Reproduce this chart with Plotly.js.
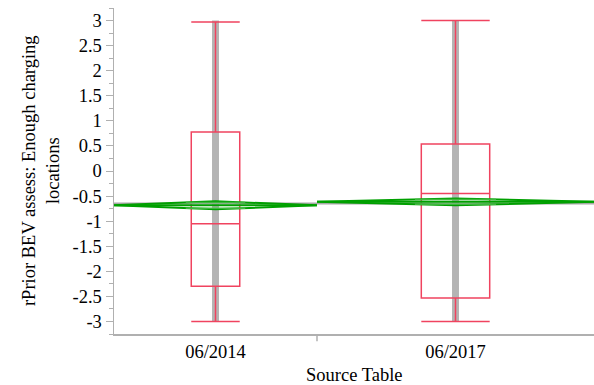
<!DOCTYPE html>
<html>
<head>
<meta charset="utf-8">
<script src="https://cdn.plot.ly/plotly-3.0.1.min.js"></script>
<style>html,body{margin:0;padding:0;background:#fff;}#chart{width:594px;height:385px;}</style>
</head>
<body>
<div id="chart"></div>
<script>
// ---- data ----
const categories = ['06/2014', '06/2017'];
const q1 = [-2.3, -2.53];
const median = [-1.05, -0.45];
const q3 = [0.78, 0.54];
const lowerWhisker = [-3, -3];
const upperWhisker = [2.97, 3];
const pointMin = [-3, -3];
const pointMax = [3, 3];
const means = [-0.685, -0.615];
const ciLower = [-0.765, -0.685];
const ciUpper = [-0.603, -0.547];
const grandMean = -0.648;
const yTickVals = [-3, -2.5, -2, -1.5, -1, -0.5, 0, 0.5, 1, 1.5, 2, 2.5, 3];
const yTickLabels = ['-3', '-2.5', '-2', '-1.5', '-1', '-0.5', '0', '0.5', '1', '1.5', '2', '2.5', '3'];

// ---- layout constants (group widths as drawn) ----
const edges = [0, 0.4229, 1];
const centers = [ (edges[0]+edges[1])/2, (edges[1]+edges[2])/2 ];
const boxWidths = [0.101, 0.1425];
const pointColumnWidth = 0.0145;
const RED = '#F0435F', GREEN = '#00A000', GRAY = '#B4B4B4';

const traces = [];
// raw points column (drawn beneath boxes)
traces.push({
  type: 'bar', x: centers, base: pointMin,
  y: pointMax.map((v, i) => v - pointMin[i]),
  width: centers.map(() => pointColumnWidth),
  marker: {color: GRAY, line: {width: 0}}, hoverinfo: 'skip'
});
// boxes
for (let i = 0; i < categories.length; i++) {
  traces.push({
    type: 'box', x: [centers[i]], q1: [q1[i]], median: [median[i]], q3: [q3[i]],
    lowerfence: [lowerWhisker[i]], upperfence: [upperWhisker[i]],
    width: boxWidths[i], whiskerwidth: 1, boxpoints: false,
    line: {color: RED, width: 1.5}, fillcolor: 'rgba(0,0,0,0)', hoverinfo: 'skip'
  });
}
// grand mean line
traces.push({
  type: 'scatter', mode: 'lines', x: [edges[0], edges[2]], y: [grandMean, grandMean],
  line: {color: '#A8A8A8', width: 2}, hoverinfo: 'skip'
});
// mean diamonds with overlap marks
for (let i = 0; i < categories.length; i++) {
  const L = edges[i], R = edges[i+1], C = centers[i];
  traces.push({
    type: 'scatter', mode: 'lines',
    x: [L, C, R, C, L], y: [means[i], ciUpper[i], means[i], ciLower[i], means[i]],
    line: {color: GREEN, width: 2}, hoverinfo: 'skip'
  });
  traces.push({
    type: 'scatter', mode: 'lines', x: [L, R], y: [means[i], means[i]],
    line: {color: GREEN, width: 2}, hoverinfo: 'skip'
  });
  const hu = (ciUpper[i] - means[i]) / Math.SQRT2, hl = (means[i] - ciLower[i]) / Math.SQRT2;
  const f = 1 - 1 / Math.SQRT2;
  const half = (R - L) / 2 * f;
  traces.push({
    type: 'scatter', mode: 'lines',
    x: [C - half, C + half, null, C - half, C + half],
    y: [means[i] + hu, means[i] + hu, null, means[i] - hl, means[i] - hl],
    line: {color: '#3DB83D', width: 1.5}, hoverinfo: 'skip'
  });
}

const FONT = 'Liberation Serif';
const layout = {
  width: 594, height: 385,
  margin: {l: 114, r: 0, t: 8, b: 51},
  paper_bgcolor: '#fff', plot_bgcolor: '#fff',
  showlegend: false, hovermode: false,
  font: {family: FONT, size: 18.5, color: '#000'},
  xaxis: {
    range: [0, 1], showgrid: false, zeroline: false,
    showline: true, linecolor: '#B0B0B0', linewidth: 1.5,
    tickmode: 'array', tickvals: centers, ticktext: categories,
    ticks: 'outside', ticklen: 0, tickwidth: 0,
    tickfont: {family: FONT, size: 18.5, color: '#000'}
  },
  yaxis: {
    range: [-3.25, 3.25], showgrid: false, zeroline: false,
    showline: true, linecolor: '#B0B0B0', linewidth: 1.5,
    tickmode: 'array', tickvals: yTickVals, ticktext: yTickLabels,
    ticks: 'outside', ticklen: 7, tickcolor: '#B0B0B0', tickwidth: 1,
    minor: {tickmode: 'linear', tick0: 0, dtick: 0.25, ticks: 'outside', ticklen: 4, tickcolor: '#B0B0B0', tickwidth: 1},
    tickfont: {family: FONT, size: 18.5, color: '#000'}
  },
  shapes: [{
    type: 'line', xref: 'x', yref: 'paper', x0: edges[1], x1: edges[1], y0: 0, y1: -0.022,
    line: {color: '#B0B0B0', width: 1.5}
  }],
  annotations: [
    {text: 'rPrior BEV assess: Enough charging<br>locations', xref: 'paper', yref: 'paper',
     x: -0.152, y: 0.5, xanchor: 'center', yanchor: 'middle', textangle: -90, showarrow: false,
     font: {family: FONT, size: 18.5, color: '#000'}},
    {text: 'Source Table', xref: 'paper', yref: 'paper', x: 0.5, y: -0.126,
     xanchor: 'center', yanchor: 'middle', showarrow: false,
     font: {family: FONT, size: 18.5, color: '#000'}}
  ]
};
Plotly.newPlot('chart', traces, layout, {displayModeBar: false, staticPlot: true});
</script>
</body>
</html>
